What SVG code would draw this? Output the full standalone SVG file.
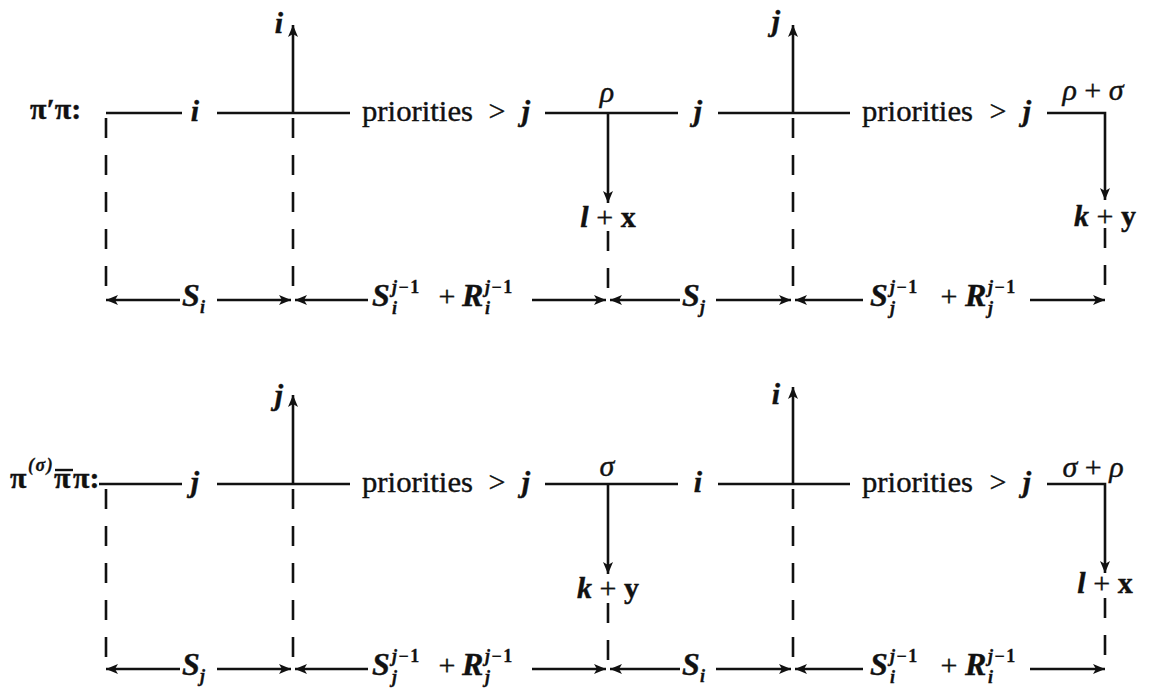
<svg xmlns="http://www.w3.org/2000/svg" width="1150" height="694" viewBox="0 0 1150 694">
<style>
.t{font-family:"Liberation Serif","Times New Roman",serif;font-size:30px;fill:#111;stroke:#111;stroke-width:0.4}
.m{font-style:italic;font-weight:bold}
.b{font-weight:bold}
.M{font-size:32px}
.s{font-size:18px;letter-spacing:1.5px;stroke-width:0.3}
.ln{stroke:#111;stroke-width:2.6;fill:none}
.da{stroke-dasharray:20 17}
.ar{marker-end:url(#ah)}
</style>
<defs>
<marker id="ah" markerUnits="userSpaceOnUse" markerWidth="13" markerHeight="10" refX="12" refY="5" orient="auto">
<path d="M0,0 L12,5 L0,10 L3,5 z" fill="#111"/>
</marker>
</defs>
<rect width="1150" height="694" fill="#fff"/>
<g id="connectors">
<line class="ln" x1="106" y1="113" x2="182" y2="113"/>
<line class="ln" x1="217" y1="113" x2="350" y2="113"/>
<line class="ln" x1="545" y1="113" x2="678" y2="113"/>
<line class="ln" x1="718" y1="113" x2="850" y2="113"/>
<polyline class="ln ar" points="1047,113 1105,113 1105,200"/>
<line class="ln ar" x1="293" y1="113" x2="293" y2="25"/>
<line class="ln ar" x1="793" y1="113" x2="793" y2="25"/>
<line class="ln ar" x1="608" y1="113" x2="608" y2="203"/>
<line class="ln da" x1="106" y1="118" x2="106" y2="292"/>
<line class="ln da" x1="293" y1="118" x2="293" y2="292"/>
<line class="ln da" x1="793" y1="118" x2="793" y2="292"/>
<line class="ln da" x1="608" y1="231" x2="608" y2="290"/>
<line class="ln da" x1="1105" y1="228" x2="1105" y2="290"/>
<line class="ln ar" x1="180" y1="300" x2="106" y2="300"/>
<line class="ln ar" x1="217" y1="300" x2="291" y2="300"/>
<line class="ln ar" x1="368" y1="300" x2="295" y2="300"/>
<line class="ln ar" x1="532" y1="300" x2="606" y2="300"/>
<line class="ln ar" x1="680" y1="300" x2="610" y2="300"/>
<line class="ln ar" x1="716" y1="300" x2="791" y2="300"/>
<line class="ln ar" x1="863" y1="300" x2="795" y2="300"/>
<line class="ln ar" x1="1030" y1="300" x2="1105" y2="300"/>
<line class="ln" x1="99" y1="484" x2="182" y2="484"/>
<line class="ln" x1="217" y1="484" x2="350" y2="484"/>
<line class="ln" x1="545" y1="484" x2="678" y2="484"/>
<line class="ln" x1="718" y1="484" x2="850" y2="484"/>
<polyline class="ln ar" points="1047,484 1105,484 1105,573"/>
<line class="ln ar" x1="293" y1="484" x2="293" y2="395"/>
<line class="ln ar" x1="793" y1="484" x2="793" y2="387"/>
<line class="ln ar" x1="608" y1="484" x2="608" y2="574"/>
<line class="ln da" x1="106" y1="489" x2="106" y2="661"/>
<line class="ln da" x1="293" y1="489" x2="293" y2="661"/>
<line class="ln da" x1="793" y1="489" x2="793" y2="661"/>
<line class="ln da" x1="608" y1="603" x2="608" y2="660"/>
<line class="ln da" x1="1105" y1="598" x2="1105" y2="660"/>
<line class="ln ar" x1="180" y1="669" x2="106" y2="669"/>
<line class="ln ar" x1="217" y1="669" x2="291" y2="669"/>
<line class="ln ar" x1="368" y1="669" x2="295" y2="669"/>
<line class="ln ar" x1="532" y1="669" x2="606" y2="669"/>
<line class="ln ar" x1="680" y1="669" x2="610" y2="669"/>
<line class="ln ar" x1="716" y1="669" x2="791" y2="669"/>
<line class="ln ar" x1="863" y1="669" x2="795" y2="669"/>
<line class="ln ar" x1="1030" y1="669" x2="1105" y2="669"/>
</g>
<g id="row1-label" class="t"><text x="30" y="119" class="b">π′π:</text></g>
<g id="row1-i" class="t"><text x="195" y="121" class="m" text-anchor="middle">i</text></g>
<g id="row1-up-i" class="t"><text x="279" y="33" class="m" text-anchor="middle">i</text></g>
<g id="row1-prio1" class="t"><text x="362" y="121" textLength="111" lengthAdjust="spacingAndGlyphs">priorities</text><text x="497" y="121" text-anchor="middle">&gt;</text><text x="526" y="121" class="m" text-anchor="middle">j</text></g>
<g id="row1-rho" class="t"><text x="607" y="102" font-style="italic" text-anchor="middle">ρ</text></g>
<g id="row1-lx" class="t"><text x="608" y="227" text-anchor="middle"><tspan class="m">l</tspan> + <tspan class="b">x</tspan></text></g>
<g id="row1-j" class="t"><text x="698" y="121" class="m" text-anchor="middle">j</text></g>
<g id="row1-up-j" class="t"><text x="776" y="31" class="m" text-anchor="middle">j</text></g>
<g id="row1-prio2" class="t"><text x="862" y="121" textLength="111" lengthAdjust="spacingAndGlyphs">priorities</text><text x="998" y="121" text-anchor="middle">&gt;</text><text x="1027" y="121" class="m" text-anchor="middle">j</text></g>
<g id="row1-rs" class="t"><text x="1093" y="100" font-style="italic" text-anchor="middle">ρ <tspan font-style="normal">+</tspan> σ</text></g>
<g id="row1-ky" class="t"><text x="1105" y="226" text-anchor="middle"><tspan class="m">k</tspan> + <tspan class="b">y</tspan></text></g>
<g id="row1-Si" class="t"><text x="182" y="306" class="m M">S</text><text x="200" y="313" class="m s">i</text></g>
<g id="row1-SRi" class="t"><text x="372" y="306" class="m M">S</text><text x="392" y="293" class="m s">j<tspan font-style="normal">−1</tspan></text><text x="392" y="314" class="m s">i</text><text x="447" y="306" text-anchor="middle">+</text><text x="462" y="306" class="m M">R</text><text x="485" y="293" class="m s">j<tspan font-style="normal">−1</tspan></text><text x="485" y="314" class="m s">i</text></g>
<g id="row1-Sj" class="t"><text x="682" y="306" class="m M">S</text><text x="700" y="313" class="m s">j</text></g>
<g id="row1-SRj" class="t"><text x="870" y="306" class="m M">S</text><text x="890" y="293" class="m s">j<tspan font-style="normal">−1</tspan></text><text x="890" y="314" class="m s">j</text><text x="949" y="306" text-anchor="middle">+</text><text x="965" y="306" class="m M">R</text><text x="988" y="293" class="m s">j<tspan font-style="normal">−1</tspan></text><text x="988" y="314" class="m s">j</text></g>
<g id="row2-label" class="t"><text x="10" y="488" class="b">π</text><text x="28" y="471" class="s" font-style="italic" font-weight="bold" letter-spacing="0">(σ)</text><text x="54" y="488" class="b">π</text><line x1="55" y1="470" x2="73" y2="470" stroke="#111" stroke-width="2.4"/><text x="73" y="488" class="b">π:</text></g>
<g id="row2-j" class="t"><text x="195" y="492" class="m" text-anchor="middle">j</text></g>
<g id="row2-up-j" class="t"><text x="279" y="405" class="m" text-anchor="middle">j</text></g>
<g id="row2-prio1" class="t"><text x="362" y="492" textLength="111" lengthAdjust="spacingAndGlyphs">priorities</text><text x="497" y="492" text-anchor="middle">&gt;</text><text x="526" y="492" class="m" text-anchor="middle">j</text></g>
<g id="row2-sigma" class="t"><text x="607" y="476" font-style="italic" text-anchor="middle">σ</text></g>
<g id="row2-ky" class="t"><text x="608" y="598" text-anchor="middle"><tspan class="m">k</tspan> + <tspan class="b">y</tspan></text></g>
<g id="row2-i" class="t"><text x="698" y="492" class="m" text-anchor="middle">i</text></g>
<g id="row2-up-i" class="t"><text x="776" y="404" class="m" text-anchor="middle">i</text></g>
<g id="row2-prio2" class="t"><text x="862" y="492" textLength="111" lengthAdjust="spacingAndGlyphs">priorities</text><text x="998" y="492" text-anchor="middle">&gt;</text><text x="1027" y="492" class="m" text-anchor="middle">j</text></g>
<g id="row2-sr" class="t"><text x="1093" y="477" font-style="italic" text-anchor="middle">σ <tspan font-style="normal">+</tspan> ρ</text></g>
<g id="row2-lx" class="t"><text x="1105" y="593" text-anchor="middle"><tspan class="m">l</tspan> + <tspan class="b">x</tspan></text></g>
<g id="row2-Sj" class="t"><text x="182" y="675" class="m M">S</text><text x="200" y="682" class="m s">j</text></g>
<g id="row2-SRj" class="t"><text x="372" y="675" class="m M">S</text><text x="392" y="662" class="m s">j<tspan font-style="normal">−1</tspan></text><text x="392" y="683" class="m s">j</text><text x="447" y="675" text-anchor="middle">+</text><text x="462" y="675" class="m M">R</text><text x="485" y="662" class="m s">j<tspan font-style="normal">−1</tspan></text><text x="485" y="683" class="m s">j</text></g>
<g id="row2-Si" class="t"><text x="682" y="675" class="m M">S</text><text x="700" y="682" class="m s">i</text></g>
<g id="row2-SRi" class="t"><text x="870" y="675" class="m M">S</text><text x="890" y="662" class="m s">j<tspan font-style="normal">−1</tspan></text><text x="890" y="683" class="m s">i</text><text x="949" y="675" text-anchor="middle">+</text><text x="965" y="675" class="m M">R</text><text x="988" y="662" class="m s">j<tspan font-style="normal">−1</tspan></text><text x="988" y="683" class="m s">i</text></g>
</svg>
